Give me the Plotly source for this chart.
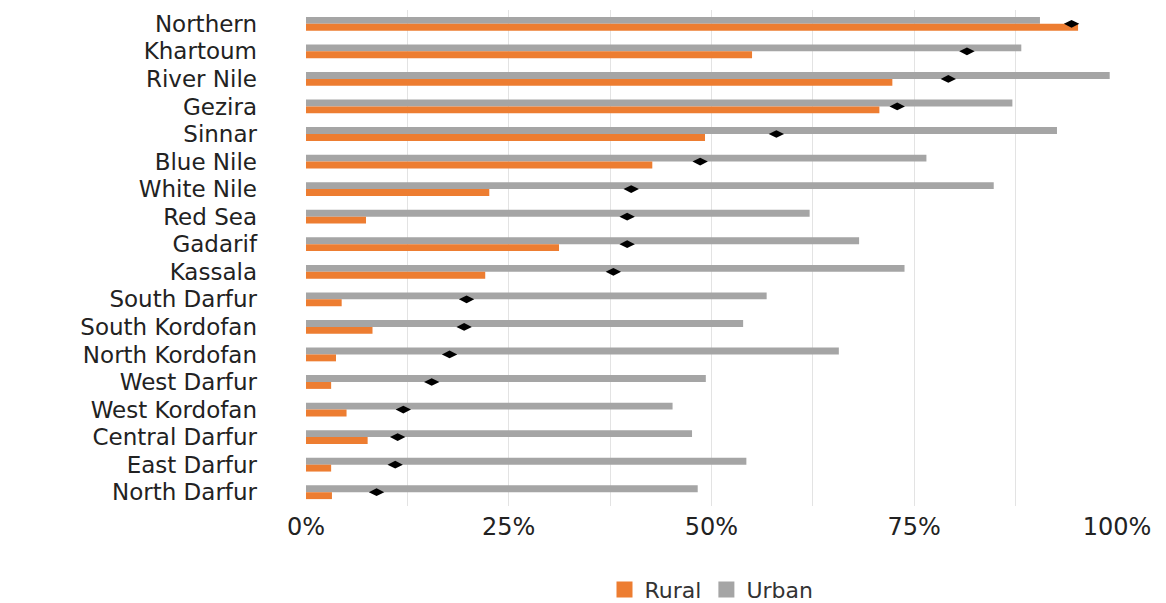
import plotly.graph_objects as go

regions = ["Northern", "Khartoum", "River Nile", "Gezira", "Sinnar", "Blue Nile",
           "White Nile", "Red Sea", "Gadarif", "Kassala", "South Darfur",
           "South Kordofan", "North Kordofan", "West Darfur", "West Kordofan",
           "Central Darfur", "East Darfur", "North Darfur"]

urban = [90.5, 88.2, 99.1, 87.1, 92.6, 76.5, 84.8, 62.1, 68.2, 73.8, 56.8,
         53.9, 65.7, 49.3, 45.2, 47.6, 54.3, 48.3]
rural = [95.2, 55.0, 72.3, 70.7, 49.2, 42.7, 22.6, 7.4, 31.2, 22.1, 4.4,
         8.2, 3.7, 3.1, 5.0, 7.6, 3.1, 3.2]
total = [94.4, 81.5, 79.2, 72.9, 58.0, 48.6, 40.1, 39.6, 39.6, 37.9, 19.8,
         19.5, 17.7, 15.5, 12.0, 11.3, 11.0, 8.7]

tick_vals = [0, 25, 50, 75, 100]
tick_text = ["0%", "25%", "50%", "75%", "100%"]

FONT = "DejaVu Sans"
ORANGE = "#ED7D31"
GRAY = "#A5A5A5"

fig = go.Figure()
fig.add_trace(go.Bar(y=regions, x=urban, orientation="h", name="Urban",
                     marker=dict(color=GRAY, line=dict(width=0)),
                     showlegend=False))
fig.add_trace(go.Bar(y=regions, x=rural, orientation="h", name="Rural",
                     marker=dict(color=ORANGE, line=dict(width=0)),
                     showlegend=False))
fig.add_trace(go.Scatter(y=regions, x=total, mode="markers", name="Total",
                         showlegend=False,
                         marker=dict(symbol="diamond-wide", size=11, color="black")))
# legend entries with larger square swatches
fig.add_trace(go.Scatter(x=[None], y=[None], mode="markers", name="Rural",
                         marker=dict(symbol="square", size=16, color=ORANGE),
                         legendrank=1))
fig.add_trace(go.Scatter(x=[None], y=[None], mode="markers", name="Urban",
                         marker=dict(symbol="square", size=16, color=GRAY),
                         legendrank=2))

n = len(regions)
fig.update_layout(
    width=1166, height=603,
    margin=dict(l=306, r=49, t=10, b=97, autoexpand=False),
    paper_bgcolor="white", plot_bgcolor="white",
    barmode="group", bargap=0.5, bargroupgap=0,
    font=dict(family=FONT, color="#222222"),
    showlegend=True,
    legend=dict(orientation="h", x=0.5, xanchor="center",
                yref="container", y=0.022, yanchor="middle",
                font=dict(size=22, family=FONT, color="#333333"),
                itemwidth=30, tracegroupgap=0),
    xaxis=dict(range=[0, 100], tickvals=tick_vals, ticktext=tick_text,
               showgrid=True, gridcolor="#E3E3E3", gridwidth=1,
               minor=dict(dtick=12.5, showgrid=True, gridcolor="#E3E3E3", gridwidth=1),
               zeroline=True, zerolinecolor="white", showline=False,
               ticks="", tickfont=dict(size=24, family=FONT, color="#222222"),
               ticklabelstandoff=4, fixedrange=True),
    yaxis=dict(range=[n - 0.5, -0.5], tickmode="array", tickvals=regions,
               showgrid=False, zeroline=False, showline=False,
               ticks="", tickfont=dict(size=23, family=FONT, color="#222222"),
               ticklabelstandoff=48),
)

fig.write_html("out.html", config={"displayModeBar": False},
               post_script="document.body.style.margin='0px';")
